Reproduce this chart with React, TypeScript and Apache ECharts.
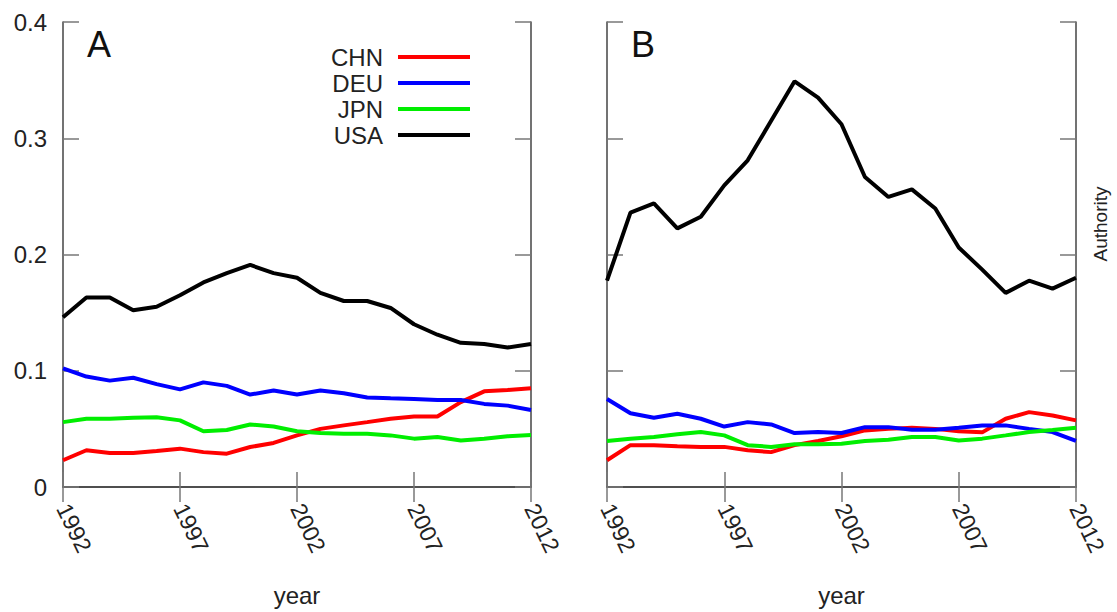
import React, { useEffect, useRef } from "react";
import * as echarts from "echarts";

const years = [
  "1992", "1993", "1994", "1995", "1996", "1997", "1998", "1999", "2000", "2001", "2002",
  "2003", "2004", "2005", "2006", "2007", "2008", "2009", "2010", "2011", "2012",
];
const countries = ["CHN", "DEU", "JPN", "USA"];
const colors = ["#ff0000", "#0000ff", "#00ee00", "#000000"];
const yTicks = [0, 0.1, 0.2, 0.3, 0.4];

// Panel A
const chnA = [0.023, 0.0316, 0.0293, 0.0293, 0.031, 0.033, 0.030, 0.0287, 0.0344, 0.0379, 0.0444,
  0.050, 0.053, 0.0558, 0.0587, 0.0607, 0.0607, 0.073, 0.0823, 0.0834, 0.085];
const deuA = [0.102, 0.095, 0.0915, 0.094, 0.0885, 0.084, 0.090, 0.087, 0.0795, 0.083, 0.0795,
  0.083, 0.0806, 0.077, 0.0763, 0.0757, 0.0749, 0.0749, 0.0715, 0.070, 0.0663];
const jpnA = [0.0558, 0.0587, 0.0587, 0.0595, 0.060, 0.0573, 0.048, 0.049, 0.0538, 0.052, 0.048,
  0.0464, 0.0458, 0.0458, 0.0444, 0.0416, 0.043, 0.040, 0.0416, 0.0436, 0.0447];
const usaA = [0.146, 0.163, 0.163, 0.152, 0.155, 0.165, 0.176, 0.184, 0.191, 0.184, 0.180,
  0.167, 0.160, 0.160, 0.154, 0.140, 0.131, 0.124, 0.123, 0.120, 0.123];

// Panel B
const chnB = [0.023, 0.036, 0.036, 0.035, 0.0345, 0.0345, 0.0316, 0.030, 0.036, 0.0396, 0.0436,
  0.0487, 0.050, 0.051, 0.050, 0.048, 0.047, 0.0587, 0.0644, 0.0615, 0.0573];
const deuB = [0.0757, 0.0635, 0.0595, 0.063, 0.0587, 0.052, 0.0558, 0.0538, 0.0464, 0.0473, 0.0464,
  0.0515, 0.0515, 0.0492, 0.0492, 0.051, 0.053, 0.053, 0.050, 0.0473, 0.0396];
const jpnB = [0.0396, 0.0416, 0.043, 0.0453, 0.0473, 0.0444, 0.036, 0.0345, 0.0368, 0.0368, 0.0373,
  0.0396, 0.0407, 0.043, 0.043, 0.040, 0.0416, 0.0444, 0.0473, 0.049, 0.051];
const usaB = [0.1775, 0.236, 0.244, 0.2225, 0.2325, 0.2595, 0.281, 0.315, 0.349, 0.335, 0.312,
  0.2667, 0.2495, 0.256, 0.2396, 0.206, 0.187, 0.167, 0.1775, 0.1706, 0.180];

const panelA = [chnA, deuA, jpnA, usaA];
const panelB = [chnB, deuB, jpnB, usaB];

const FONT = "Liberation Sans, Arial, sans-serif";
const AXIS_COLOR = "#444";
const TICK_COLOR = "#777";
const TEXT_COLOR = "#222";

function xAxes(gridIndex: number) {
  const common = {
    type: "category" as const,
    gridIndex,
    data: years,
    boundaryGap: false,
    axisLine: { show: true, lineStyle: { color: AXIS_COLOR, width: 1.5 } },
    axisTick: { show: true, inside: true, length: 15, interval: 4, lineStyle: { color: TICK_COLOR, width: 1.5 } },
    splitLine: { show: false },
  };
  return [
    {
      ...common,
      position: "bottom",
      axisLabel: {
        show: true,
        interval: 4,
        rotate: -64,
        margin: 18,
        fontSize: 23,
        color: TEXT_COLOR,
        fontFamily: FONT,
      },
      name: "year",
      nameLocation: "middle",
      nameGap: 96,
      nameTextStyle: { fontSize: 24, color: TEXT_COLOR, fontFamily: FONT },
    },
    { ...common, position: "top", axisLabel: { show: false } },
  ];
}

function yAxes(gridIndex: number, showLabels: boolean) {
  const common = {
    type: "value" as const,
    gridIndex,
    min: yTicks[0],
    max: yTicks[yTicks.length - 1],
    interval: 0.1,
    axisLine: { show: true, lineStyle: { color: AXIS_COLOR, width: 1.5 } },
    axisTick: { show: true, inside: true, length: 16, lineStyle: { color: TICK_COLOR, width: 1.5 } },
    splitLine: { show: false },
  };
  return [
    {
      ...common,
      position: "left",
      axisLabel: {
        show: showLabels,
        margin: 16,
        fontSize: 24,
        color: TEXT_COLOR,
        fontFamily: FONT,
        formatter: (v: number) => (v === 0 ? "0" : String(Math.round(v * 10) / 10)),
      },
    },
    { ...common, position: "right", axisLabel: { show: false } },
  ];
}

const legendRows = [57, 83, 109, 135];

export default function App() {
  const ref = useRef<HTMLDivElement>(null);
  useEffect(() => {
    if (!ref.current) return;
    const chart = echarts.init(ref.current, undefined, { renderer: "svg" });
    const series: any[] = [];
    [panelA, panelB].forEach((panel, p) => {
      panel.forEach((vals, i) => {
        series.push({
          type: "line",
          name: countries[i],
          xAxisIndex: p * 2,
          yAxisIndex: p * 2,
          data: vals,
          showSymbol: false,
          symbol: "none",
          lineStyle: { color: colors[i], width: 4 },
          itemStyle: { color: colors[i] },
          z: 2 + i,
        });
      });
    });
    const legends = countries.map((c, i) => ({
      data: [c],
      orient: "vertical",
      align: "right",
      right: 1117 - 470,
      top: legendRows[i] - 13,
      padding: 0,
      icon: "rect",
      itemWidth: 72,
      itemHeight: 4,
      selectedMode: false,
      textStyle: {
        fontSize: 24,
        lineHeight: 26,
        color: TEXT_COLOR,
        fontFamily: FONT,
        padding: [0, 10, 0, 0],
      },
    }));
    chart.setOption({
      animation: false,
      backgroundColor: "#ffffff",
      textStyle: { fontFamily: FONT },
      grid: [
        { left: 63, top: 22, width: 468, height: 468, containLabel: false },
        { left: 607, top: 22, width: 469, height: 468, containLabel: false },
      ],
      xAxis: [...xAxes(0), ...xAxes(1)],
      yAxis: [...yAxes(0, true), ...yAxes(1, false)],
      legend: legends,
      series,
      graphic: [
        { type: "text", x: 87, y: 44, style: { text: "A", fontSize: 36, fill: "#111", fontFamily: FONT, verticalAlign: "middle" } },
        { type: "text", x: 631, y: 44, style: { text: "B", fontSize: 36, fill: "#111", fontFamily: FONT, verticalAlign: "middle" } },
        {
          type: "text",
          x: 1100,
          y: 224,
          rotation: Math.PI / 2,
          style: {
            text: "Authority",
            fontSize: 19,
            fill: TEXT_COLOR,
            fontFamily: FONT,
            align: "center",
            verticalAlign: "middle",
          },
        },
      ],
    });
    return () => chart.dispose();
  }, []);
  return (
    <div
      ref={ref}
      style={{ position: "fixed", left: 0, top: 0, width: 1117, height: 612, background: "#fff" }}
    />
  );
}
